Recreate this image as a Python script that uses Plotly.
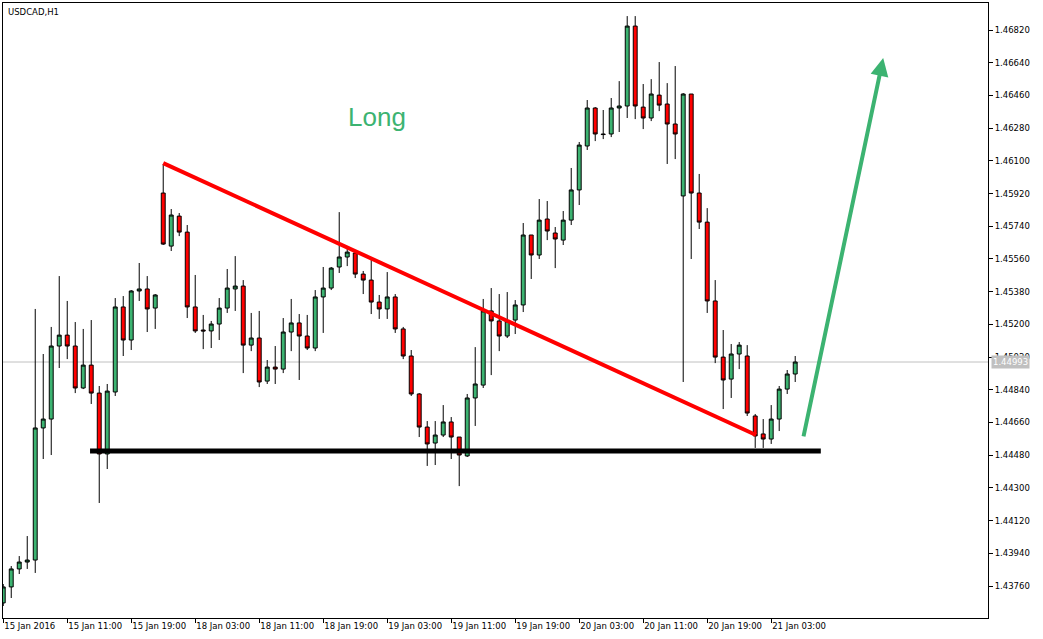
import plotly.graph_objects as go
import pandas as pd

# ---------------- data (USDCAD H1) ----------------
opens = [1.43667, 1.43755, 1.43854, 1.43892, 1.43903, 1.44630, 1.44679, 1.45081, 1.45141, 1.45081,
         1.44850, 1.44976, 1.44822, 1.44487, 1.44828, 1.45296, 1.45114, 1.45384, 1.45395, 1.45290,
         1.45923, 1.45631, 1.45796, 1.45708, 1.45296, 1.45169, 1.45164, 1.45202, 1.45290, 1.45395,
         1.45411, 1.45086, 1.45125, 1.44888, 1.44965, 1.44954, 1.45158, 1.45208, 1.45136, 1.45070,
         1.45351, 1.45400, 1.45516, 1.45571, 1.45593, 1.45477, 1.45444, 1.45323, 1.45285, 1.45351,
         1.45175, 1.45026, 1.44817, 1.44635, 1.44547, 1.44591, 1.44663, 1.44580, 1.44476, 1.44795,
         1.44866, 1.45274, 1.45219, 1.45136, 1.45224, 1.45307, 1.45692, 1.45582, 1.45780, 1.45703,
         1.45664, 1.45774, 1.45940, 1.46182, 1.46391, 1.46248, 1.46248, 1.46391, 1.46402, 1.46842,
         1.46396, 1.46336, 1.46462, 1.46413, 1.46303, 1.45907, 1.46468, 1.45923, 1.45763, 1.45329,
         1.45020, 1.44899, 1.45037, 1.45026, 1.44696, 1.44597, 1.44569, 1.44679, 1.44844, 1.44927]
highs = [1.43771, 1.43870, 1.43925, 1.44035, 1.45285, 1.45037, 1.45186, 1.45466, 1.45329, 1.45213,
         1.45175, 1.45224, 1.44861, 1.44872, 1.45345, 1.45356, 1.45389, 1.45538, 1.45466, 1.45367,
         1.46083, 1.45835, 1.45813, 1.45747, 1.45472, 1.45252, 1.45219, 1.45345, 1.45505, 1.45576,
         1.45444, 1.45263, 1.45274, 1.45004, 1.45081, 1.45235, 1.45340, 1.45257, 1.45252, 1.45389,
         1.45516, 1.45516, 1.45818, 1.45615, 1.45609, 1.45494, 1.45571, 1.45362, 1.45488, 1.45367,
         1.45186, 1.45059, 1.44822, 1.44668, 1.44668, 1.44756, 1.44690, 1.44580, 1.44817, 1.45075,
         1.45340, 1.45400, 1.45367, 1.45378, 1.45334, 1.45758, 1.45692, 1.45890, 1.45879, 1.45736,
         1.45824, 1.46061, 1.46204, 1.46435, 1.46396, 1.46380, 1.46446, 1.46539, 1.46897, 1.46897,
         1.46523, 1.46550, 1.46644, 1.46528, 1.46622, 1.46473, 1.46468, 1.46028, 1.45840, 1.45444,
         1.45169, 1.45092, 1.45103, 1.45086, 1.44707, 1.44679, 1.44756, 1.44861, 1.44949, 1.45026]
lows = [1.43650, 1.43694, 1.43826, 1.43854, 1.43832, 1.44459, 1.44481, 1.44960, 1.45009, 1.44822,
        1.44844, 1.44762, 1.44217, 1.44404, 1.44806, 1.45026, 1.45059, 1.45329, 1.45158, 1.45175,
        1.45637, 1.45604, 1.45686, 1.45235, 1.45153, 1.45064, 1.45070, 1.45114, 1.45263, 1.45274,
        1.44932, 1.45053, 1.44855, 1.44872, 1.44872, 1.44932, 1.45053, 1.44894, 1.45059, 1.45053,
        1.45153, 1.45389, 1.45483, 1.45521, 1.45455, 1.45367, 1.45257, 1.45230, 1.45230, 1.45153,
        1.45009, 1.44806, 1.44580, 1.44421, 1.44426, 1.44580, 1.44459, 1.44310, 1.44470, 1.44641,
        1.44850, 1.44921, 1.45053, 1.45125, 1.45147, 1.45268, 1.45450, 1.45560, 1.45664, 1.45510,
        1.45637, 1.45747, 1.45857, 1.46160, 1.46209, 1.46220, 1.46231, 1.46259, 1.46336, 1.46330,
        1.46275, 1.46319, 1.46374, 1.46083, 1.46110, 1.44883, 1.45560, 1.45725, 1.45263, 1.44987,
        1.44734, 1.44795, 1.44954, 1.44696, 1.44520, 1.44520, 1.44542, 1.44613, 1.44817, 1.44883]
closes = [1.43755, 1.43854, 1.43892, 1.43903, 1.44630, 1.44679, 1.45081, 1.45141, 1.45081, 1.44850,
          1.44976, 1.44822, 1.44487, 1.44833, 1.45296, 1.45114, 1.45384, 1.45395, 1.45285, 1.45362,
          1.45642, 1.45802, 1.45708, 1.45296, 1.45164, 1.45164, 1.45202, 1.45290, 1.45400, 1.45411,
          1.45086, 1.45125, 1.44883, 1.44965, 1.44954, 1.45158, 1.45208, 1.45136, 1.45070, 1.45351,
          1.45400, 1.45510, 1.45571, 1.45598, 1.45477, 1.45444, 1.45323, 1.45285, 1.45351, 1.45175,
          1.45026, 1.44817, 1.44635, 1.44542, 1.44591, 1.44663, 1.44580, 1.44481, 1.44795, 1.44872,
          1.45274, 1.45219, 1.45136, 1.45219, 1.45307, 1.45692, 1.45582, 1.45774, 1.45714, 1.45670,
          1.45774, 1.45940, 1.46187, 1.46391, 1.46248, 1.46245, 1.46391, 1.46402, 1.46842, 1.46402,
          1.46336, 1.46468, 1.46407, 1.46303, 1.46248, 1.46468, 1.45923, 1.45763, 1.45329, 1.45020,
          1.44894, 1.45037, 1.45086, 1.44712, 1.44586, 1.44569, 1.44679, 1.44844, 1.44927, 1.44993]

# hourly bar times (weekend gap between 15 Jan and 18 Jan)
times = (list(pd.date_range("2016-01-15 03:00", "2016-01-15 23:00", freq="h"))
         + list(pd.date_range("2016-01-18 00:00", periods=79, freq="h")))
bar_index = list(range(len(times)))

tick_times = ["2016-01-15 03:00", "2016-01-15 11:00", "2016-01-15 19:00", "2016-01-18 03:00",
              "2016-01-18 11:00", "2016-01-18 19:00", "2016-01-19 03:00", "2016-01-19 11:00",
              "2016-01-19 19:00", "2016-01-20 03:00", "2016-01-20 11:00", "2016-01-20 19:00",
              "2016-01-21 03:00"]
tick_labels = ["15 Jan 2016", "15 Jan 11:00", "15 Jan 19:00", "18 Jan 03:00", "18 Jan 11:00",
               "18 Jan 19:00", "19 Jan 03:00", "19 Jan 11:00", "19 Jan 19:00", "20 Jan 03:00",
               "20 Jan 11:00", "20 Jan 19:00", "21 Jan 03:00"]
price_ticks = [1.43760, 1.43940, 1.44120, 1.44300, 1.44480, 1.44660, 1.44840, 1.45020, 1.45200,
               1.45380, 1.45560, 1.45740, 1.45920, 1.46100, 1.46280, 1.46460, 1.46640, 1.46820]

last_price = 1.44993

# drawn objects (bar index, price)
trend_x = [20, 94.1]
trend_y = [1.46088, 1.44591]
support_x = [10.85, 102.2]
support_y = [1.44503, 1.44503]
arrow_start = (100.0, 1.44575)
arrow_end = (110.0, 1.46666)
label_pos = (46.7, 1.46341)

GREEN = "#3CB371"
RED = "#FF0000"
FONT = "DejaVu Sans"

time_pos = {t.strftime("%Y-%m-%d %H:%M"): i for i, t in enumerate(times)}
tickvals = [time_pos[t] for t in tick_times]

fig = go.Figure()

fig.add_trace(go.Candlestick(
    x=bar_index, open=opens, high=highs, low=lows, close=closes,
    increasing=dict(fillcolor=GREEN, line=dict(color="black", width=1)),
    decreasing=dict(fillcolor=RED, line=dict(color="black", width=1)),
    whiskerwidth=0, showlegend=False, hoverinfo="skip",
))

fig.add_trace(go.Scatter(x=trend_x, y=trend_y, mode="lines",
                         line=dict(color=RED, width=4), showlegend=False, hoverinfo="skip"))
fig.add_trace(go.Scatter(x=support_x, y=support_y, mode="lines",
                         line=dict(color="black", width=5), showlegend=False, hoverinfo="skip"))

# current price line
fig.add_shape(type="line", xref="paper", x0=0, x1=1, yref="y", y0=last_price, y1=last_price,
              line=dict(color="#C0C0C0", width=1), layer="below")

fig.add_annotation(x=arrow_end[0], y=arrow_end[1], ax=arrow_start[0], ay=arrow_start[1],
                   xref="x", yref="y", axref="x", ayref="y", text="", showarrow=True,
                   arrowhead=2, arrowsize=0.9, arrowwidth=4, arrowcolor=GREEN)

fig.add_annotation(x=label_pos[0], y=label_pos[1], xref="x", yref="y", text="Long",
                   showarrow=False, font=dict(family="Liberation Sans", size=26, color=GREEN))

fig.add_annotation(x=0, y=1, xref="paper", yref="paper", xanchor="left", yanchor="top",
                   xshift=3, yshift=-2, text="USDCAD,H1", showarrow=False,
                   font=dict(family=FONT, size=8.5, color="black"))

fig.add_annotation(x=1, y=last_price, xref="paper", yref="y", xanchor="left", yanchor="middle",
                   xshift=3, text=f"{last_price:.5f}", showarrow=False, bgcolor="#C0C0C0",
                   borderpad=1, font=dict(family=FONT, size=8.5, color="white"))

fig.update_layout(
    width=1043, height=639,
    margin=dict(l=3, r=55, t=3, b=21),
    paper_bgcolor="white", plot_bgcolor="white",
    font=dict(family=FONT, size=8.5, color="black"),
    showlegend=False,
    xaxis=dict(
        range=[-0.03, 123.1], rangeslider=dict(visible=False),
        tickmode="array", tickvals=tickvals, ticktext=tick_labels,
        ticks="outside", ticklen=4, tickcolor="black", ticklabelposition="outside right",
        showgrid=False, zeroline=False, showline=True, linecolor="black", linewidth=1,
        mirror=True, fixedrange=True,
    ),
    yaxis=dict(
        range=[1.43584, 1.46969], side="right",
        tickmode="array", tickvals=price_ticks, tickformat=".5f",
        ticks="outside", ticklen=4, tickcolor="black",
        showgrid=False, zeroline=False, showline=True, linecolor="black", linewidth=1,
        mirror=True, fixedrange=True,
    ),
)

fig.write_html("out.html", config={"displayModeBar": False},
               post_script="document.body.style.margin='0';document.body.style.overflow='hidden';")
